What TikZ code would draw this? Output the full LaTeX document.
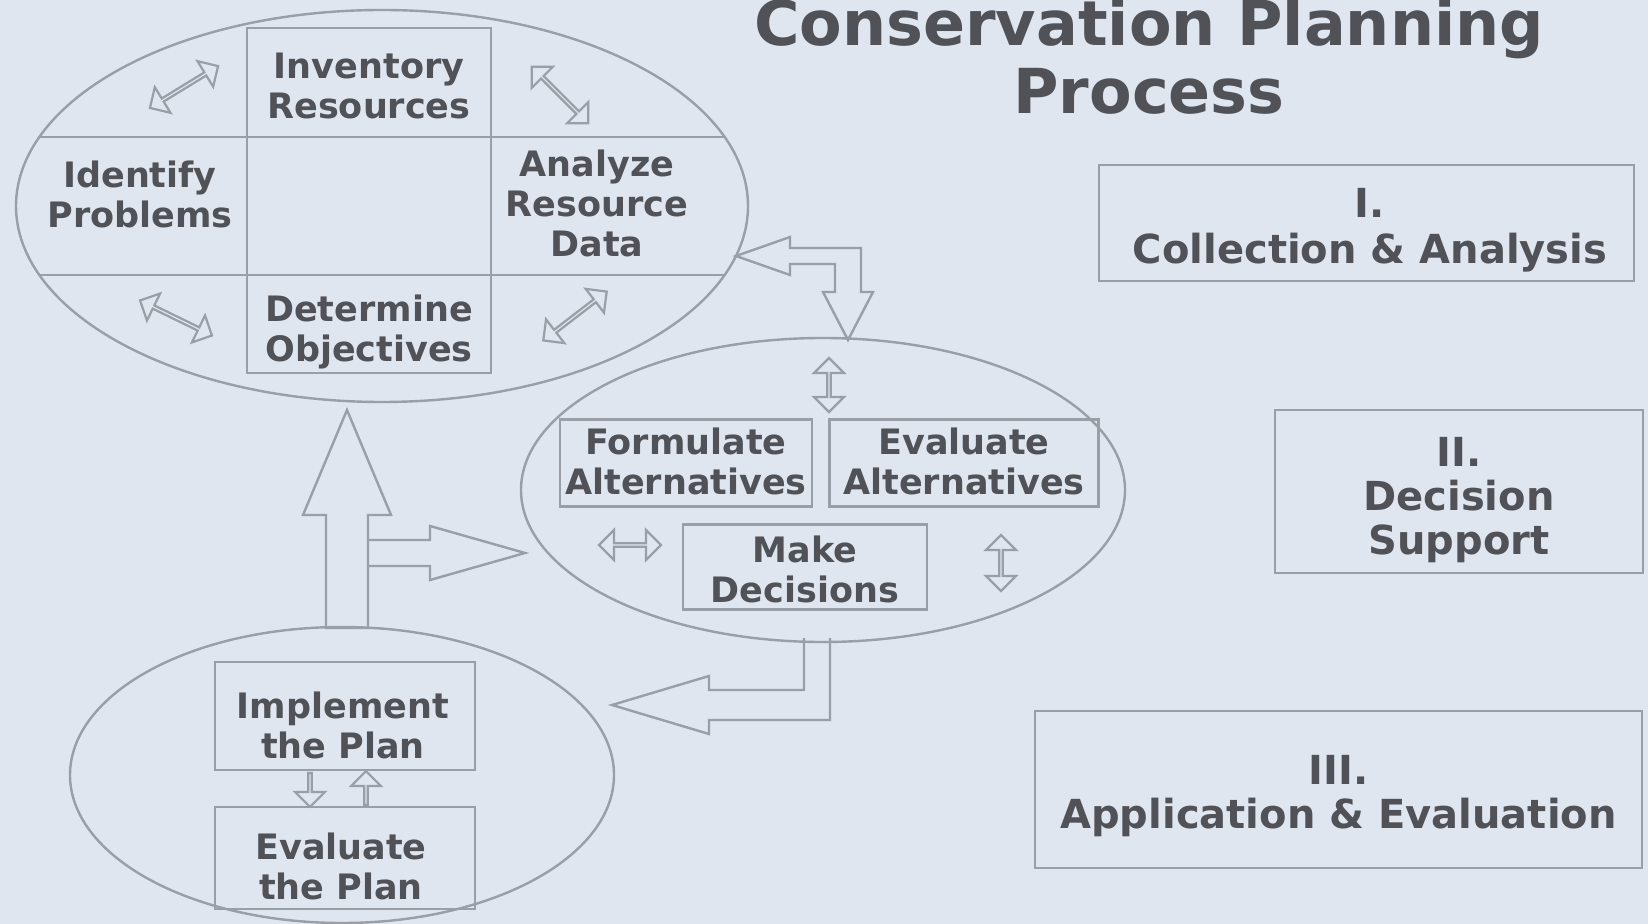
\documentclass[tikz,border=0pt]{standalone}
\usepackage{fontspec}
\setmainfont{DejaVu Sans}
\usetikzlibrary{shapes.arrows,shapes.geometric}
\definecolor{bgc}{HTML}{DFE6EF}
\definecolor{lnc}{HTML}{9A9EA6}
\definecolor{txc}{HTML}{505257}
\tikzset{
  edge/.style={draw=lnc, line width=1.2pt},
  ell/.style={ellipse, draw=lnc, line width=1.2pt, inner sep=0pt},
  cellbox/.style={rectangle, draw=lnc, line width=1.2pt, inner sep=0pt},
  lbl/.style={text=txc, font=\fontsize{17.5}{20}\selectfont\bfseries, align=center, inner sep=0pt},
  stepbox/.style={rectangle, draw=lnc, line width=1.2pt, inner sep=0pt},
  phasebox/.style={rectangle, draw=lnc, line width=1.2pt, inner sep=0pt},
  plbl/.style={text=txc, font=\fontsize{20}{22}\selectfont\bfseries, align=center, inner sep=0pt},
  ttl/.style={text=txc, font=\fontsize{31}{33}\selectfont\bfseries, inner sep=0pt},
  dar/.style={double arrow, draw=lnc, line width=1.1pt, fill=bgc, inner sep=0pt,
     minimum width=15pt, double arrow head extend=4pt, minimum height=40pt},
  sar/.style={single arrow, draw=lnc, line width=1.1pt, fill=bgc, inner sep=0pt,
     minimum width=15pt, single arrow head extend=4pt, minimum height=17pt},
  hollow/.style={draw=lnc, line width=1.2pt, fill=bgc, line join=miter},
}
\begin{document}
\begin{tikzpicture}[x=0.5pt,y=-0.5pt]
\fill[bgc] (0,0) rectangle (1648,924);
\useasboundingbox (0,0) rectangle (1648,924);

% title
\node[ttl] (t1) at (1149,29) {Conservation Planning};
\node[ttl] (t2) at (1149,91) {Process};

% big hollow arrows
\draw[hollow] (368,540) -- (430,540) -- (430,526) -- (525,553) -- (430,580) -- (430,566) -- (368,566);
\draw[hollow] (326,628) -- (326,515) -- (303,515) -- (347,410) -- (391,515) -- (368,515) -- (368,628) -- cycle;
\draw[hollow] (736,256) -- (790,237) -- (790,248) -- (861,248) -- (861,292) -- (873,292)
  -- (848,340) -- (823,292) -- (835,292) -- (835,264) -- (790,264) -- (790,275) -- cycle;
\draw[hollow] (804,638) -- (804,690) -- (709,690) -- (709,676) -- (612,705) -- (709,734)
  -- (709,720) -- (830,720) -- (830,638);

% top ellipse: collection & analysis
\node[ell, minimum width=366pt, minimum height=196pt] (E1) at (382,206) {};
\begin{scope}
  \clip (382,206) ellipse [x radius=366, y radius=196];
  \draw[edge] (0,137) -- (800,137);
  \draw[edge] (0,275) -- (800,275);
\end{scope}
\node[cellbox, minimum width=122pt, minimum height=172.5pt] (col) at (369,200.5) {};
\node[lbl] (inv) at (369,86) {Inventory\\Resources};
\node[lbl] (idp) at (140,194) {Identify\\Problems};
\node[lbl] (ard) at (597,203) {Analyze\\Resource\\Data};
\node[lbl] (det) at (369,332) {Determine\\Objectives};
\node[dar, rotate=31.5] (a1) at (184,87) {};
\node[dar, rotate=-45] (a2) at (560,95) {};
\node[dar, rotate=-26] (a3) at (176,318) {};
\node[dar, rotate=37.6] (a4) at (575,316) {};

% middle ellipse: decision support
\node[ell, minimum width=302pt, minimum height=152pt] (E2) at (823,490) {};
\node[stepbox, minimum width=126pt, minimum height=43.5pt] (form) at (686,463) {};
\node[lbl] (formt) at (686,461) {Formulate\\Alternatives};
\node[stepbox, minimum width=134.5pt, minimum height=43.5pt] (evalt) at (964,463) {};
\node[lbl] (evaltt) at (964,461) {Evaluate\\Alternatives};
\node[stepbox, minimum width=122pt, minimum height=42.5pt] (make) at (805,567) {};
\node[lbl] (maket) at (805,569) {Make\\Decisions};
\node[dar, minimum height=31pt] (a5) at (630,545) {};
\node[dar, rotate=90, minimum height=27pt] (a6) at (829,385) {};
\node[dar, rotate=90, minimum height=28pt] (a7) at (1001,563) {};

% bottom ellipse: application & evaluation
\node[ell, minimum width=272pt, minimum height=148pt] (E3) at (342,775) {};
\node[stepbox, minimum width=130pt, minimum height=54pt] (impl) at (345,716) {};
\node[lbl] (implt) at (343,725) {Implement\\the Plan};
\node[stepbox, minimum width=130pt, minimum height=51pt] (evpl) at (345,858) {};
\node[lbl] (evplt) at (341,866) {Evaluate\\the Plan};
\node[sar, rotate=-90] (a8) at (310,789) {};
\node[sar, rotate=90] (a9) at (366,789) {};

% phase boxes
\node[phasebox, minimum width=267.5pt, minimum height=58pt] (p1) at (1366.5,223) {};
\node[plbl] (p1t) at (1370,230) {I.\\[1pt]Collection \& Analysis};
\node[phasebox, minimum width=184pt, minimum height=81.5pt] (p2) at (1459,491.5) {};
\node[plbl] (p2t) at (1459,500) {II.\\Decision\\Support};
\node[phasebox, minimum width=303.5pt, minimum height=78.5pt] (p3) at (1338.5,789.5) {};
\node[plbl] (p3t) at (1338.5,796) {III.\\Application \& Evaluation};
\end{tikzpicture}
\end{document}
